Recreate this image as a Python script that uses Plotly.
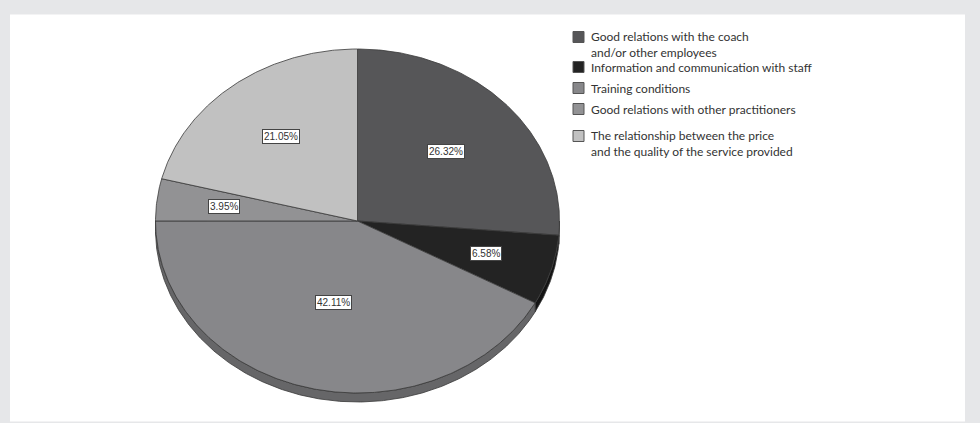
import numpy as np
import plotly.graph_objects as go

# Survey answers and their shares (%)
categories = [
    "Good relations with the coach<br>and/or other employees",
    "Information and communication with staff",
    "Training conditions",
    "Good relations with other practitioners",
    "The relationship between the price<br>and the quality of the service provided",
]
shares = [26.32, 6.58, 42.11, 3.95, 21.05]

# Greyscale fills: top face and darker side wall
face_colors = ["#565658", "#232323", "#87878a", "#929294", "#c1c1c1"]
side_colors = ["#3e3e40", "#141414", "#666668", "#747476", "#9e9e9e"]

W, H = 980, 423
# Tilted pie: centre, radii and wall depth (in page pixels)
CX, CY, RX, RY, DEPTH = 357.5, 221.0, 202.0, 172.0, 9.0
EDGE = "#3a3a3a"


def arc(a0, a1, dy=0.0, n=None):
    """Points along the pie rim between angles a0..a1 (degrees, clockwise from 12 o'clock)."""
    if n is None:
        n = max(4, int(abs(a1 - a0) * 2))
    t = np.radians(np.linspace(a0, a1, n))
    return CX + RX * np.sin(t), CY - RY * np.cos(t) + dy


vals = np.array(shares, dtype=float)
ends = 360.0 * np.cumsum(vals) / vals.sum()
starts = ends - 360.0 * vals / vals.sum()

fig = go.Figure()

# side wall, visible along the front half of the pie (90..270 degrees)
for a0, a1, col in zip(starts, ends, side_colors):
    lo, hi = max(a0, 90.0), min(a1, 270.0)
    if hi <= lo:
        continue
    xt, yt = arc(lo, hi)
    xb, yb = arc(lo, hi, dy=DEPTH)
    fig.add_trace(go.Scatter(
        x=np.concatenate([xt, xb[::-1], xt[:1]]),
        y=np.concatenate([yt, yb[::-1], yt[:1]]),
        mode="lines", fill="toself", fillcolor=col,
        line=dict(color=EDGE, width=0.8), hoverinfo="skip", showlegend=False,
    ))

# top faces of the slices
for a0, a1, col, name in zip(starts, ends, face_colors, categories):
    xs, ys = arc(a0, a1)
    fig.add_trace(go.Scatter(
        x=np.concatenate([[CX], xs, [CX]]),
        y=np.concatenate([[CY], ys, [CY]]),
        mode="lines", fill="toself", fillcolor=col,
        line=dict(color=EDGE, width=0.8), hoverinfo="skip", showlegend=False,
        name=name.replace("<br>", " "),
    ))

# percentage labels at each slice's centroid
annotations = []
for a0, a1, v in zip(starts, ends, vals):
    span = np.radians(a1 - a0)
    mid = np.radians((a0 + a1) / 2.0)
    d = 4.0 * np.sin(span / 2.0) / (3.0 * span)
    annotations.append(dict(
        x=CX + d * RX * np.sin(mid), y=CY - d * RY * np.cos(mid),
        xref="x", yref="y", text=f"{v:.2f}%", showarrow=False,
        font=dict(family="Liberation Sans, Arial", size=10, color="#333333"),
        bgcolor="#ffffff", bordercolor="#444444", borderwidth=1, borderpad=1,
    ))

# legend: swatch + text per category
legend_text_y = [44, 67, 88, 109, 143]
legend_box_y = [37, 67, 88, 109, 136]
shapes = [dict(type="rect", xref="x", yref="y", x0=10, x1=965, y0=14.5, y1=421.5,
               fillcolor="#ffffff", line=dict(width=0), layer="below")]
for name, col, ty, by in zip(categories, face_colors, legend_text_y, legend_box_y):
    shapes.append(dict(type="rect", xref="x", yref="y", x0=573, x1=584,
                       y0=by - 5.5, y1=by + 5.5, fillcolor=col,
                       line=dict(color="#555555", width=1)))
    annotations.append(dict(
        x=589, y=ty, xref="x", yref="y", text=name, showarrow=False,
        xanchor="left", yanchor="middle", align="left",
        font=dict(family="Lato, Noto Sans, sans-serif", size=12, color="#333333"),
    ))

fig.update_layout(
    width=W, height=H,
    margin=dict(l=0, r=0, t=0, b=0),
    paper_bgcolor="#e6e7e9", plot_bgcolor="rgba(0,0,0,0)",
    xaxis=dict(range=[0, W], visible=False, fixedrange=True),
    yaxis=dict(range=[H, 0], visible=False, fixedrange=True),
    shapes=shapes, annotations=annotations, showlegend=False,
)

fig.write_html("out.html")
